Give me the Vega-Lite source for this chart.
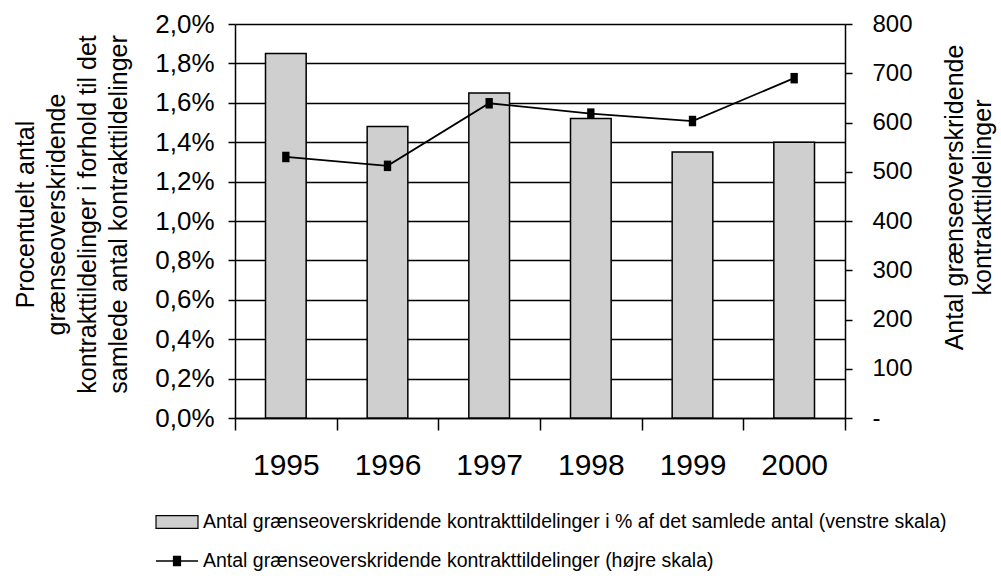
{
  "$schema": "https://vega.github.io/schema/vega-lite/v6.json",
  "autosize": {"type": "none"},
  "width": 610,
  "height": 394,
  "padding": {"left": 235, "top": 24, "right": 156, "bottom": 161},
  "background": "white",
  "config": {
    "view": {"stroke": null},
    "font": "Liberation Sans",
    "axis": {"labelColor": "black", "titleColor": "black", "domainColor": "black", "tickColor": "black", "labelFont": "Liberation Sans", "titleFont": "Liberation Sans", "titleFontWeight": "normal"},
    "legend": {"labelFont": "Liberation Sans", "labelColor": "black"}
  },
  "data": {
    "values": [
      {"year": "1995", "pct": 0.0185, "count": 530},
      {"year": "1996", "pct": 0.0148, "count": 512},
      {"year": "1997", "pct": 0.0165, "count": 639},
      {"year": "1998", "pct": 0.0152, "count": 618},
      {"year": "1999", "pct": 0.0135, "count": 603},
      {"year": "2000", "pct": 0.0140, "count": 690}
    ]
  },
  "encoding": {
    "x": {
      "field": "year", "type": "ordinal",
      "scale": {"paddingInner": 0, "paddingOuter": 0},
      "axis": {
        "title": null, "labelAngle": 0, "labelFontSize": 30, "labelPadding": 20,
        "tickSize": 12, "tickWidth": 1.5, "domainWidth": 1.5, "tickBand": "extent"
      }
    }
  },
  "layer": [
    {
      "mark": {"type": "bar", "stroke": "black", "strokeWidth": 1.5, "width": {"band": 0.4}},
      "encoding": {
        "y": {
          "field": "pct", "type": "quantitative",
          "scale": {"domain": [0, 0.02]},
          "axis": {
            "values": [0, 0.002, 0.004, 0.006, 0.008, 0.01, 0.012, 0.014, 0.016, 0.018, 0.02],
            "format": ".1%",
            "labelExpr": "replace(datum.label, '.', ',')",
            "labelFontSize": 26, "labelPadding": 14, "tickSize": 7, "tickWidth": 1.5, "domainWidth": 1.5,
            "grid": true, "gridColor": "black", "gridWidth": 1.5, "gridOpacity": 1,
            "title": ["Procentuelt antal", "grænseoverskridende", "kontrakttildelinger i forhold til det", "samlede antal  kontrakttildelinger"],
            "titleFontSize": 25, "titleLineHeight": 31, "titleAngle": -90,
            "titleX": -222, "titleY": 190, "titleAlign": "center", "titleBaseline": "top"
          }
        },
        "fill": {
          "datum": "Antal grænseoverskridende kontrakttildelinger i % af det samlede antal (venstre skala)",
          "scale": {"range": ["#cfcfcf"]},
          "legend": {
            "title": null, "orient": "none", "legendX": -80, "legendY": 476,
            "symbolType": "M-1,-0.3H1V0.3H-1Z", "symbolSize": 1764, "symbolStrokeColor": "black", "symbolStrokeWidth": 1.2,
            "labelFontSize": 19.5, "labelLimit": 1000, "labelOffset": 4
          }
        }
      }
    },
    {
      "layer": [
        {
          "mark": {"type": "line", "strokeWidth": 1.8},
          "encoding": {
            "y": {
              "field": "count", "type": "quantitative",
              "scale": {"domain": [0, 800]},
              "axis": {
                "orient": "right",
                "values": [0, 100, 200, 300, 400, 500, 600, 700, 800],
                "format": "d",
                "labelExpr": "datum.value == 0 ? '-' : datum.label",
                "labelFontSize": 24, "labelPadding": 20, "tickSize": 7, "tickWidth": 1.5, "domainWidth": 1.5,
                "grid": false,
                "title": ["Antal grænseoverskridende", "kontrakttildelinger"],
                "titleFontSize": 25, "titleLineHeight": 28, "titleAngle": -90,
                "titleX": 97, "titleY": 173, "titleAlign": "center", "titleBaseline": "top"
              }
            },
            "stroke": {
              "datum": "Antal grænseoverskridende kontrakttildelinger (højre skala)",
              "scale": {"range": ["black"]},
              "legend": {
                "title": null, "orient": "none", "legendX": -80, "legendY": 515,
                "symbolType": "M-1,0H1M-0.16,-0.22H0.16V0.22H-0.16Z", "symbolSize": 1764,
                "symbolStrokeColor": "black", "symbolFillColor": "black", "symbolStrokeWidth": 1.5,
                "labelFontSize": 19.5, "labelLimit": 1000, "labelOffset": 4
              }
            }
          }
        },
        {
          "mark": {"type": "point", "shape": "M-0.7,-1H0.7V1H-0.7Z", "filled": true, "color": "black", "size": 110, "opacity": 1},
          "encoding": {
            "y": {"field": "count", "type": "quantitative"}
          }
        }
      ]
    }
  ],
  "resolve": {"scale": {"y": "independent", "fill": "independent", "stroke": "independent"}}
}
